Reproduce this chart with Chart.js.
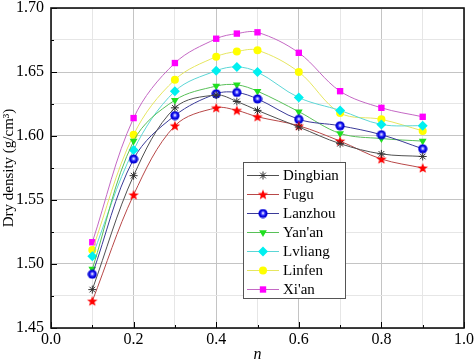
<!DOCTYPE html>
<html><head><meta charset="utf-8">
<script src="https://cdn.jsdelivr.net/npm/chart.js@4/dist/chart.umd.min.js"></script>
<style>html,body{margin:0;padding:0;background:#fff;}#wrap{width:474px;height:364px;}</style>
</head><body><div id="wrap"><canvas id="c" width="474" height="364"></canvas></div>
<script>
const nValues = [0.1, 0.2, 0.3, 0.4, 0.45, 0.5, 0.6, 0.7, 0.8, 0.9];
const dingbian = [1.480, 1.569, 1.622, 1.632, 1.627, 1.620, 1.607, 1.594, 1.586, 1.584];
const fugu     = [1.471, 1.554, 1.608, 1.622, 1.620, 1.615, 1.608, 1.596, 1.582, 1.575];
const lanzhou  = [1.492, 1.582, 1.616, 1.633, 1.634, 1.629, 1.613, 1.608, 1.601, 1.590];
const yanan    = [1.496, 1.596, 1.628, 1.639, 1.640, 1.635, 1.619, 1.602, 1.598, 1.596];
const lvliang  = [1.506, 1.589, 1.635, 1.651, 1.654, 1.650, 1.630, 1.620, 1.609, 1.608];
const linfen   = [1.511, 1.601, 1.644, 1.662, 1.666, 1.667, 1.650, 1.618, 1.613, 1.604];
const xian     = [1.517, 1.614, 1.657, 1.676, 1.680, 1.681, 1.665, 1.635, 1.622, 1.615];
const seriesNames = ['Dingbian', 'Fugu', 'Lanzhou', "Yan'an", 'Lvliang', 'Linfen', "Xi'an"];
const xTickLabels = ['0.0', '0.2', '0.4', '0.6', '0.8', '1.0'];
const yTickLabels = ['1.45', '1.50', '1.55', '1.60', '1.65', '1.70'];

const FONT = '"Liberation Serif", "Times New Roman", serif';

function makeStar() {
  const c = document.createElement('canvas'); c.width = 12; c.height = 12;
  const g = c.getContext('2d'); g.fillStyle = '#ff0000'; g.beginPath();
  for (let i = 0; i < 10; i++) {
    const r = i % 2 === 0 ? 5.5 : 2.3; const a = -Math.PI / 2 + i * Math.PI / 5;
    const px = 6 + r * Math.cos(a), py = 6.4 + r * Math.sin(a);
    i === 0 ? g.moveTo(px, py) : g.lineTo(px, py);
  }
  g.closePath(); g.fill(); return c;
}
function makeSphere() {
  const c = document.createElement('canvas'); c.width = 10; c.height = 10;
  const g = c.getContext('2d');
  g.fillStyle = '#0000d8'; g.beginPath(); g.arc(5, 5, 4.6, 0, Math.PI * 2); g.fill();
  g.fillStyle = '#3a3aff'; g.beginPath(); g.arc(5, 4.8, 2.6, 0, Math.PI * 2); g.fill();
  g.fillStyle = '#b0b0ff'; g.beginPath(); g.arc(5, 4.7, 1.4, 0, Math.PI * 2); g.fill();
  g.fillStyle = '#ffffff'; g.beginPath(); g.arc(5, 4.7, 0.7, 0, Math.PI * 2); g.fill();
  return c;
}
const starImg = makeStar();
const sphereImg = makeSphere();

const values = [dingbian, fugu, lanzhou, yanan, lvliang, linfen, xian];
const lineColors = ['#505050', '#b84848', '#3a3a98', '#58c058', '#5cd6d6', '#e6e660', '#c468c4'];
const markColors = ['#303030', '#ff0000', '#0000ee', '#20e020', '#00f0f0', '#ffff00', '#ff00ff'];
const styles = ['star', starImg, sphereImg, 'triangle', 'rectRot', 'circle', 'rect'];
const radii = [4, 5, 5, 4.5, 5, 4, 4.5];
const rots = [0, 0, 0, 180, 0, 0, 0];

const datasets = seriesNames.map((name, i) => ({
  label: name,
  data: nValues.map((x, k) => ({ x: x, y: values[i][k] })),
  borderColor: lineColors[i],
  borderWidth: 1,
  backgroundColor: markColors[i],
  pointBackgroundColor: markColors[i],
  pointBorderColor: markColors[i],
  pointBorderWidth: i === 0 ? 1 : 0,
  pointStyle: styles[i],
  pointRadius: radii[i],
  pointRotation: rots[i],
  tension: 0.35,
  fill: false
}));

function isMult(v, s) { return Math.abs(v / s - Math.round(v / s)) < 1e-6; }

const framePlugin = {
  id: 'frame',
  afterDatasetsDraw(chart) {
    const ctx = chart.ctx, a = chart.chartArea;
    const xs = chart.scales.x, ys = chart.scales.y;
    ctx.save();
    ctx.strokeStyle = '#000'; ctx.lineWidth = 1;
    for (let k = 0; k <= 10; k++) {
      const v = k / 10; const px = Math.round(xs.getPixelForValue(v)) + 0.5;
      const len = k % 2 === 0 ? 6 : 3;
      ctx.beginPath(); ctx.moveTo(px, a.bottom); ctx.lineTo(px, a.bottom - len); ctx.stroke();
    }
    for (let k = 0; k <= 10; k++) {
      const v = 1.45 + k * 0.025; const py = Math.round(ys.getPixelForValue(v)) + 0.5;
      const len = k % 2 === 0 ? 6 : 3;
      ctx.beginPath(); ctx.moveTo(a.left, py); ctx.lineTo(a.left + len, py); ctx.stroke();
    }
    ctx.lineWidth = 1.6; ctx.strokeStyle = '#111';
    ctx.strokeRect(a.left, a.top, a.right - a.left, a.bottom - a.top);
    // legend
    const bx = 243.5, by = 162.5, bw = 102, bh = 136;
    ctx.fillStyle = '#fff'; ctx.fillRect(bx, by, bw, bh);
    ctx.lineWidth = 1; ctx.strokeStyle = '#555'; ctx.strokeRect(bx, by, bw, bh);
    ctx.font = '15px ' + FONT; ctx.textBaseline = 'middle'; ctx.textAlign = 'left';
    chart.data.datasets.forEach((ds, i) => {
      const y = 175 + i * 19;
      ctx.strokeStyle = ds.borderColor; ctx.lineWidth = 1;
      ctx.beginPath(); ctx.moveTo(247, y + 0.5); ctx.lineTo(279, y + 0.5); ctx.stroke();
      ctx.fillStyle = ds.pointBackgroundColor; ctx.strokeStyle = ds.pointBorderColor;
      ctx.lineWidth = ds.pointBorderWidth || 0;
      Chart.helpers.drawPoint(ctx, {
        pointStyle: ds.pointStyle, radius: ds.pointRadius, rotation: ds.pointRotation,
        borderWidth: ds.pointBorderWidth
      }, 263, y + 0.5);
      ctx.fillStyle = '#000';
      ctx.fillText(ds.label, 283, y + 1);
    });
    ctx.restore();
  }
};

Chart.register(framePlugin);

new Chart(document.getElementById('c'), {
  type: 'line',
  data: { datasets: datasets },
  options: {
    responsive: false,
    animation: false,
    devicePixelRatio: 1,
    layout: { padding: { left: 0, top: 8, right: 10, bottom: 0 } },
    plugins: { legend: { display: false }, tooltip: { enabled: false } },
    scales: {
      x: {
        type: 'linear', min: 0, max: 1,
        border: { display: false },
        grid: {
          drawTicks: false,
          color: c => (c.tick && isMult(c.tick.value, 0.2)) ? '#c4c4c4' : '#e6e6e6',
          lineWidth: 1
        },
        ticks: {
          stepSize: 0.1, padding: 2, autoSkip: false, maxRotation: 0,
          color: '#000', font: { family: FONT, size: 16 },
          callback: v => isMult(v, 0.2) ? xTickLabels[Math.round(v / 0.2)] : ''
        },
        title: { display: true, text: 'n', color: '#000', padding: { top: 0, bottom: 0 },
          font: { family: FONT, size: 16, style: 'italic' } },
        afterFit(s) { s.height = 36; s.paddingLeft = 0; s.paddingRight = 0; }
      },
      y: {
        type: 'linear', min: 1.45, max: 1.70,
        border: { display: false },
        grid: {
          drawTicks: false,
          color: c => (c.tick && isMult(c.tick.value - 1.45, 0.05)) ? '#c4c4c4' : '#e6e6e6',
          lineWidth: 1
        },
        ticks: {
          stepSize: 0.025, padding: 7, autoSkip: false,
          color: '#000', font: { family: FONT, size: 16 },
          callback: v => isMult(v - 1.45, 0.05) ? yTickLabels[Math.round((v - 1.45) / 0.05)] : ''
        },
        title: { display: true, text: 'Dry density (g/cm\u00B3)', color: '#000', padding: { top: 0, bottom: 0 },
          font: { family: FONT, size: 15 } },
        afterFit(s) { s.width = 51; s.paddingTop = 0; s.paddingBottom = 0; }
      }
    }
  }
});
</script>
</body></html>
